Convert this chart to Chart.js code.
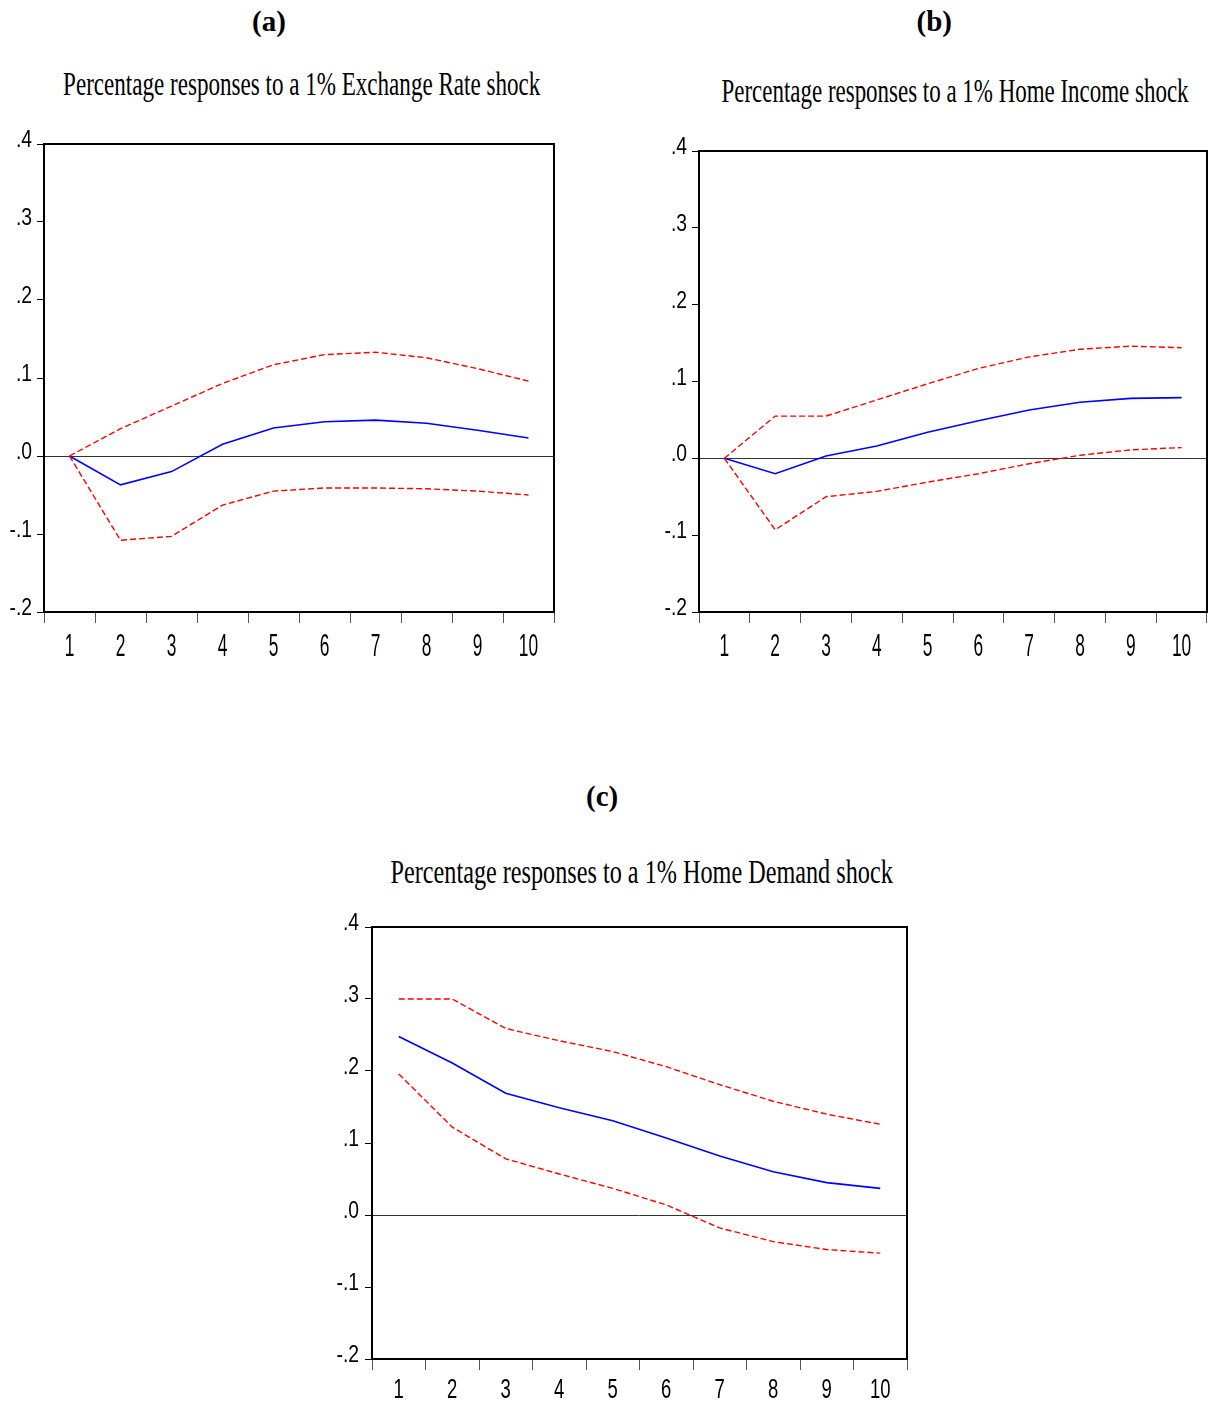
<!DOCTYPE html>
<html lang="en">
<head>
  <meta charset="UTF-8" />
  <title>Percentage responses to a 1% shock</title>
  <script src="https://cdn.jsdelivr.net/npm/chart.js"></script>
  <style>
    html, body { margin: 0; padding: 0; background: #fff; }
    body { position: relative; width: 1214px; height: 1402px; overflow: hidden; }
    canvas { position: absolute; }
    .txt {
      position: absolute;
      white-space: nowrap;
      color: #000;
      font-family: 'Liberation Serif', 'Times New Roman', serif;
      transform-origin: center;
    }
  </style>
</head>
<body>

  <div class="txt" id="tagA">(a)</div>
  <div class="txt" id="titleA">Percentage responses to a 1% Exchange Rate shock</div>
  <div class="txt" id="tagB">(b)</div>
  <div class="txt" id="titleB">Percentage responses to a 1% Home Income shock</div>
  <div class="txt" id="tagC">(c)</div>
  <div class="txt" id="titleC">Percentage responses to a 1% Home Demand shock</div>

  <canvas id="chartA"></canvas>
  <canvas id="chartB"></canvas>
  <canvas id="chartC"></canvas>

  <script>
    // periods after the shock
    const periods = ['1', '2', '3', '4', '5', '6', '7', '8', '9', '10'];

    // y axis
    const yMin = -0.2;
    const yMax = 0.4;
    const yStep = 0.1;

    // (a) Exchange Rate shock
    const respA  = [0, -0.037, -0.020, 0.015, 0.036, 0.044, 0.046, 0.042, 0.033, 0.023];
    const upperA = [0, 0.035, 0.064, 0.093, 0.117, 0.130, 0.133, 0.126, 0.112, 0.096];
    const lowerA = [0, -0.108, -0.103, -0.063, -0.045, -0.041, -0.041, -0.042, -0.045, -0.050];

    // (b) Home Income shock
    const respB  = [0, -0.020, 0.003, 0.016, 0.034, 0.049, 0.063, 0.073, 0.078, 0.079];
    const upperB = [0, 0.055, 0.055, 0.076, 0.097, 0.117, 0.132, 0.142, 0.146, 0.144];
    const lowerB = [0, -0.093, -0.050, -0.043, -0.031, -0.020, -0.007, 0.004, 0.011, 0.014];

    // (c) Home Demand shock
    const respC  = [0.248, 0.211, 0.169, 0.149, 0.131, 0.107, 0.082, 0.060, 0.045, 0.037];
    const upperC = [0.300, 0.300, 0.259, 0.242, 0.227, 0.206, 0.181, 0.158, 0.140, 0.126];
    const lowerC = [0.196, 0.122, 0.078, 0.057, 0.037, 0.014, -0.018, -0.037, -0.048, -0.053];

    // ".4", ".0", "-.1" style labels
    function yLabel(v) {
      return v.toFixed(1).replace('0.', '.');
    }

    // box around the plot + squeezed tick labels
    const frame = {
      id: 'frame',
      afterDraw(chart, args, o) {
        const ctx = chart.ctx;
        const a = chart.chartArea;
        const x = chart.scales.x;
        const y = chart.scales.y;
        ctx.save();
        ctx.strokeStyle = '#000';
        ctx.lineWidth = 2;
        ctx.strokeRect(a.left, a.top, a.right - a.left, a.bottom - a.top);

        ctx.fillStyle = '#000';
        ctx.textBaseline = 'alphabetic';
        ctx.textAlign = 'right';
        ctx.font = o.yFont;
        y.ticks.forEach((t, i) => {
          ctx.save();
          ctx.translate(a.left - o.yGap, y.getPixelForTick(i) + o.yDrop);
          ctx.scale(o.yStretch, 1);
          ctx.fillText(yLabel(t.value), 0, 0);
          ctx.restore();
        });

        ctx.textAlign = 'center';
        ctx.font = o.xFont;
        x.ticks.forEach((t, i) => {
          ctx.save();
          ctx.translate(x.getPixelForTick(i), a.bottom + o.xDrop);
          ctx.scale(o.xStretch, 1);
          ctx.fillText(x.getLabelForValue(t.value), 0, 0);
          ctx.restore();
        });
        ctx.restore();
      }
    };

    function buildChart(id, plot, resp, upper, lower, lab) {
      const m = { left: 40, top: 20, right: 20, bottom: lab.bottom };
      const canvas = document.getElementById(id);
      canvas.width = plot.r - plot.l + m.left + m.right;
      canvas.height = plot.b - plot.t + m.top + m.bottom;
      canvas.style.left = (plot.l - m.left) + 'px';
      canvas.style.top = (plot.t - m.top) + 'px';

      const band = { borderColor: '#ff0000', borderWidth: 1.4, borderDash: [6, 3] };

      return new Chart(canvas, {
        type: 'line',
        data: {
          labels: periods,
          datasets: [
            Object.assign({ label: 'upper', data: upper }, band),
            Object.assign({ label: 'lower', data: lower }, band),
            { label: 'response', data: resp, borderColor: '#0000ff', borderWidth: 1.6 }
          ]
        },
        options: {
          responsive: false,
          animation: false,
          devicePixelRatio: 1,
          layout: { padding: { top: m.top, right: m.right, left: 0, bottom: 0 } },
          elements: { point: { radius: 0 }, line: { tension: 0 } },
          plugins: {
            legend: { display: false },
            tooltip: { enabled: false },
            frame: lab
          },
          scales: {
            x: {
              type: 'category',
              offset: true,
              afterFit: s => { s.height = m.bottom; },
              ticks: { display: false },
              border: { display: false },
              grid: { offset: true, drawOnChartArea: false, tickLength: 11, tickColor: '#555', tickWidth: 1 }
            },
            y: {
              min: yMin,
              max: yMax,
              afterFit: s => { s.width = m.left; },
              ticks: { display: false, stepSize: yStep },
              border: { display: false },
              grid: {
                color: c => Math.abs(c.tick.value) < 1e-9 ? '#333' : 'rgba(0,0,0,0)',
                lineWidth: 1,
                tickLength: 7,
                tickColor: '#000',
                tickWidth: 1
              }
            }
          }
        },
        plugins: [frame]
      });
    }

    const labAB = {
      bottom: 60,
      yFont: '23px "Liberation Sans", Arial, sans-serif', yGap: 12, yDrop: 3, yStretch: 0.84,
      xFont: '31px "Liberation Sans", Arial, sans-serif', xDrop: 44, xStretch: 0.56
    };
    const labC = {
      bottom: 43,
      yFont: '23px "Liberation Sans", Arial, sans-serif', yGap: 13, yDrop: 3, yStretch: 0.84,
      xFont: '28px "Liberation Sans", Arial, sans-serif', xDrop: 39, xStretch: 0.66
    };

    buildChart('chartA', { l: 44, t: 144, r: 554, b: 612 }, respA, upperA, lowerA, labAB);
    buildChart('chartB', { l: 699, t: 151, r: 1207, b: 612 }, respB, upperB, lowerB, labAB);
    buildChart('chartC', { l: 372, t: 927, r: 907, b: 1359 }, respC, upperC, lowerC, labC);

    // headings: centre x, baseline y, font size, bold, target width
    function placeText(id, cx, baseline, size, bold, width) {
      const el = document.getElementById(id);
      el.style.fontSize = size + 'px';
      el.style.lineHeight = size + 'px';
      el.style.fontWeight = bold ? 'bold' : 'normal';
      const w = el.offsetWidth;
      const s = width ? width / w : 1;
      el.style.left = (cx - w / 2) + 'px';
      el.style.top = (baseline - 0.8375 * size) + 'px';
      el.style.transform = 'scaleX(' + s + ')';
    }

    placeText('tagA', 269, 31, 29, true);
    placeText('tagB', 934, 31, 29, true);
    placeText('tagC', 602, 806, 29, true);
    placeText('titleA', 301.5, 95, 34, false, 477);
    placeText('titleB', 954.5, 102, 34, false, 467);
    placeText('titleC', 641, 883, 34, false, 502);
  </script>

</body>
</html>
